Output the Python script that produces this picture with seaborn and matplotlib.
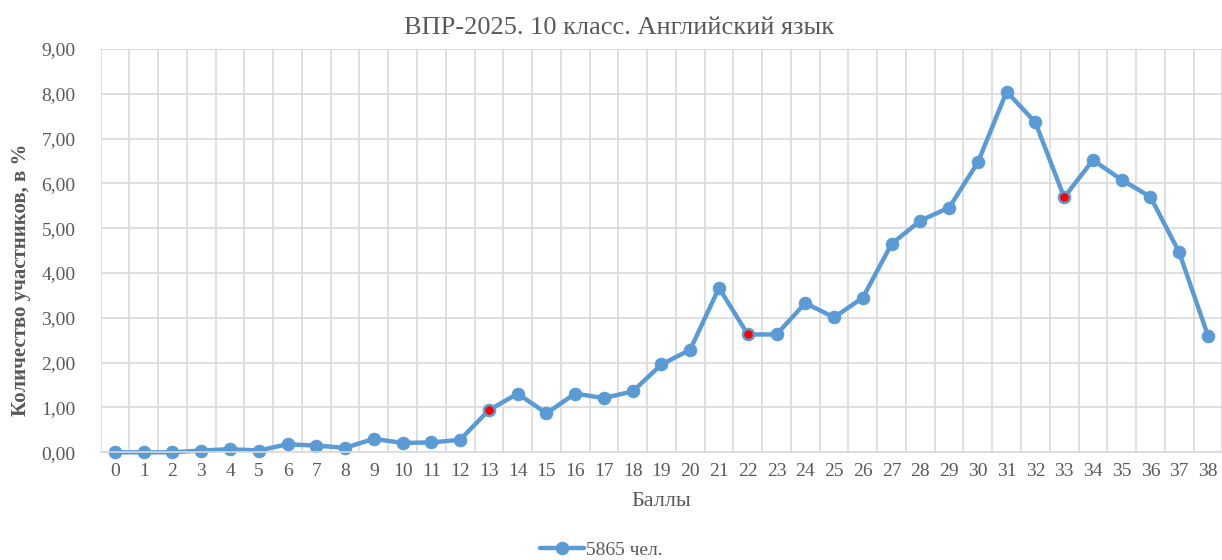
import matplotlib
matplotlib.use("Agg")
import matplotlib.pyplot as plt
import seaborn as sns
import pandas as pd
from matplotlib.ticker import FuncFormatter, MultipleLocator

scores = list(range(0, 39))
percent = [0.00, 0.00, 0.00, 0.04, 0.07, 0.04, 0.18, 0.15, 0.10, 0.30,
           0.21, 0.22, 0.28, 0.94, 1.31, 0.87, 1.31, 1.21, 1.36, 1.96,
           2.29, 3.67, 2.63, 2.63, 3.33, 3.01, 3.45, 4.65, 5.17, 5.46,
           6.47, 8.05, 7.36, 5.69, 6.52, 6.08, 5.70, 4.46, 2.60]
highlighted = [13, 22, 33]
series_label = "5865 чел."
title = "ВПР-2025. 10 класс. Английский язык"
x_label = "Баллы"
y_label = "Количество участников, в %"

df = pd.DataFrame({"score": scores, "percent": percent})
df_hl = df[df["score"].isin(highlighted)]

sns.set_theme(style="white")
plt.rcParams["font.family"] = ["Liberation Serif", "DejaVu Serif"]

blue = "#5B9BD5"
grey_text = "#595959"
grid_col = "#D9D9D9"

fig = plt.figure(figsize=(12.22, 5.60), dpi=100)
ax = fig.add_axes([0.0823, 0.1923, 0.918, 0.7202])

sns.lineplot(data=df, x="score", y="percent", ax=ax, color=blue, lw=3.2,
             marker="o", markersize=9, markeredgecolor=blue,
             label=series_label, clip_on=False)
sns.scatterplot(data=df_hl, x="score", y="percent", ax=ax, color="#FF0000",
                s=38, edgecolor="#FF0000", linewidth=0, zorder=5,
                clip_on=False)

ax.set_xlim(-0.5, 38.5)
ax.set_ylim(0, 9)
ax.yaxis.set_major_locator(MultipleLocator(1))
ax.yaxis.set_major_formatter(FuncFormatter(lambda v, p: f"{v:.2f}".replace(".", ",")))
ax.set_xticks(scores)
ax.set_xticklabels([str(s) for s in scores])
ax.set_xticks([s + 0.5 for s in range(-1, 39)], minor=True)

ax.grid(False)
ax.grid(which="minor", axis="x", color=grid_col, lw=1.2)
ax.grid(which="major", axis="y", color=grid_col, lw=1.2)
ax.set_axisbelow(True)
for side in ["top", "right", "left"]:
    ax.spines[side].set_visible(False)
ax.spines["bottom"].set_color(grid_col)
ax.spines["bottom"].set_linewidth(1.2)

ax.tick_params(axis="both", which="both", length=0, labelsize=14,
               labelcolor=grey_text)
ax.tick_params(axis="x", pad=8)
ax.tick_params(axis="y", pad=18)

ax.set_xlabel(x_label, fontsize=16, color=grey_text, labelpad=8)
ax.set_ylabel(y_label, fontsize=15, color=grey_text, fontweight="bold")
ax.yaxis.set_label_coords(-0.062, 0.427)
fig.text(0.507, 0.950, title, ha="center", va="center", fontsize=19,
         color=grey_text)

leg = ax.legend(loc="center", bbox_to_anchor=(0.492, 0.018),
                bbox_transform=fig.transFigure, frameon=False, fontsize=14,
                handlelength=2.3, handletextpad=0.1)
for t in leg.get_texts():
    t.set_color(grey_text)

fig.savefig("out.png", dpi=100)
